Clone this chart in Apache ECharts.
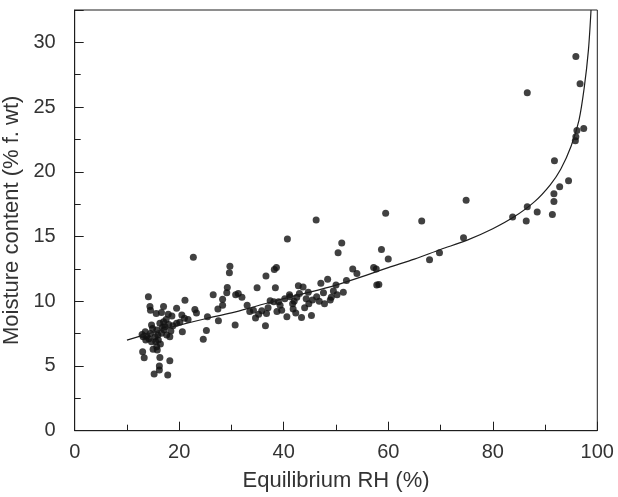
<!DOCTYPE html>
<html lang="en">
<head>
<meta charset="UTF-8">
<title>Moisture content vs equilibrium RH</title>
<script src="https://cdn.jsdelivr.net/npm/echarts@6/dist/echarts.min.js"></script>
<style>
  html, body { margin: 0; padding: 0; background: #fff; }
  #chart { width: 618px; height: 497px; }
</style>
</head>
<body>
<div id="chart"></div>
<script>
// measured points: [RH %, moisture %]
var lowCluster = [
  [12.9, 7.44], [13.0, 6.1], [13.3, 5.64], [13.1, 7.26], [13.5, 7.65], [13.6, 7.0], [13.8, 7.3],
  [14.1, 10.35], [14.4, 9.6], [14.5, 9.3], [14.7, 8.16], [14.7, 6.87], [14.2, 7.1], [14.5, 7.5],
  [14.9, 7.9], [15.0, 6.3], [15.2, 4.38], [15.4, 7.26], [15.5, 6.9], [15.6, 9.06], [15.7, 7.78],
  [15.7, 6.49], [15.8, 6.23], [15.9, 7.4], [16.0, 7.0], [16.2, 5.0], [16.2, 4.69], [16.3, 8.3],
  [16.3, 5.66], [16.4, 6.7], [16.6, 9.14], [16.6, 7.52], [16.8, 8.0], [17.0, 9.6], [17.0, 8.42],
  [17.1, 7.8], [17.3, 8.03], [17.5, 8.6], [17.6, 7.39], [17.8, 4.3], [17.9, 9.0], [18.0, 8.2],
  [18.2, 7.26], [18.2, 5.4], [18.4, 7.7], [18.6, 8.86], [18.8, 8.1], [19.5, 9.45], [19.5, 8.3],
  [20.1, 8.37], [20.5, 8.93], [20.6, 7.65], [21.0, 8.68], [21.1, 10.07], [21.7, 8.6], [22.7, 13.4],
  [23.0, 9.37], [23.3, 9.1], [24.6, 7.06], [25.2, 7.75], [25.4, 8.8]
];
var midCluster = [
  [26.5, 10.5], [27.4, 9.4], [27.5, 8.5], [28.3, 10.15], [28.3, 9.7], [29.1, 10.65], [29.2, 11.07],
  [29.6, 12.2], [29.7, 12.7], [30.7, 8.16], [30.8, 10.5], [31.3, 10.6], [32.0, 10.3], [33.0, 9.7],
  [33.5, 9.2], [34.2, 9.3], [34.6, 8.7], [34.9, 11.04], [35.2, 9.0], [35.8, 9.27], [36.5, 8.1],
  [36.6, 11.95], [36.7, 9.06], [37.0, 9.5], [37.4, 10.04], [38.1, 9.96], [38.2, 12.45], [38.4, 11.04],
  [38.6, 12.6], [38.7, 9.2], [39.0, 9.96], [39.3, 9.7], [39.6, 9.3], [40.2, 10.2], [40.6, 8.8],
  [40.7, 14.8], [41.1, 10.5], [41.2, 10.35], [41.7, 9.8], [41.8, 9.4], [42.0, 10.0], [42.3, 9.1],
  [42.5, 10.3], [42.8, 11.2], [43.0, 10.6], [43.4, 8.75], [43.7, 11.1], [44.0, 9.5], [44.3, 10.2],
  [44.7, 10.7], [44.8, 9.8], [45.3, 8.9], [45.5, 10.1], [46.2, 16.27], [46.3, 10.35], [46.8, 10.0],
  [47.1, 11.4], [47.6, 10.65], [47.8, 9.8], [48.4, 11.7], [48.9, 10.1], [49.1, 10.3], [49.5, 10.8],
  [50.0, 11.25], [50.2, 10.5], [50.4, 13.75], [51.1, 14.5], [51.4, 10.7], [52.0, 11.6], [53.2, 12.5],
  [54.0, 12.15], [57.2, 12.6], [57.7, 12.5], [57.8, 11.25], [58.2, 11.3], [58.7, 14.0], [59.5, 16.8],
  [60.0, 13.26], [66.4, 16.2], [67.9, 13.2], [69.8, 13.75], [74.4, 14.9], [74.9, 17.8]
];
var highCluster = [
  [83.8, 16.5], [86.4, 16.2], [86.6, 17.3], [86.6, 26.1], [88.5, 16.9], [91.4, 16.7], [91.7, 17.7],
  [91.7, 18.3], [91.8, 20.85], [92.8, 18.85], [94.5, 19.3], [95.8, 22.4], [95.9, 22.7], [96.1, 23.2],
  [97.4, 23.35], [95.9, 28.9], [96.7, 26.8]
];

// fitted isotherm
var curveRH = [10, 15, 20, 25, 30, 35, 40, 45, 50, 55, 60, 65, 70, 75, 80, 84, 88, 91, 93, 95, 96.5, 97.5, 98.3, 98.8];
var curveMC = [7.0, 7.6, 8.15, 8.65, 9.1, 9.65, 10.2, 10.7, 11.25, 11.9, 12.6, 13.25, 14.0, 14.7, 15.6, 16.5, 17.7, 19.0, 20.2, 22.0, 24.0, 26.5, 29.4, 32.5];

var xRange = [0, 100], xStep = 20;
var yRange = [0, 32.5], yStep = 5;

var ink = '#1e1e1e';
var txt = '#333';
var font = 'Liberation Sans, Arial, sans-serif';
var points = lowCluster.concat(midCluster, highCluster);
var curve = curveRH.map(function (x, i) { return [x, curveMC[i]]; });

var chart = echarts.init(document.getElementById('chart'));

chart.setOption({
  animation: false,
  grid: {
    left: 74.7, right: 20.7, top: 10, bottom: 66.3,
    containLabel: false, outerBoundsMode: 'none',
    show: true, borderColor: ink, borderWidth: 1
  },
  xAxis: {
    type: 'value',
    name: 'Equilibrium RH (%)',
    nameLocation: 'middle',
    nameGap: 39,
    nameTextStyle: { color: txt, fontSize: 22, fontFamily: font },
    min: xRange[0], max: xRange[1], interval: xStep,
    axisLine: { show: true, lineStyle: { color: ink, width: 1 } },
    axisTick: { show: true, inside: true, length: 9, lineStyle: { color: ink } },
    minorTick: { show: true, splitNumber: 2, length: 6, lineStyle: { color: ink } },
    splitLine: { show: false },
    axisLabel: { color: txt, fontSize: 20, fontFamily: font, margin: 12 }
  },
  yAxis: {
    type: 'value',
    name: 'Moisture content (% f. wt)',
    nameLocation: 'middle',
    nameGap: 29,
    nameTextStyle: { color: txt, fontSize: 22, fontFamily: font },
    min: yRange[0], max: yRange[1], interval: yStep,
    axisLine: { show: true, lineStyle: { color: ink, width: 1 } },
    axisTick: { show: true, inside: true, length: 9, lineStyle: { color: ink } },
    minorTick: { show: true, splitNumber: 2, length: 6, lineStyle: { color: ink } },
    splitLine: { show: false },
    axisLabel: { color: txt, fontSize: 20, fontFamily: font, margin: 19, showMaxLabel: false }
  },
  series: [
    {
      type: 'scatter',
      data: points,
      symbolSize: 7,
      itemStyle: { color: '#111' }
    },
    {
      type: 'line',
      data: curve,
      smooth: 0.3,
      showSymbol: false,
      clip: true,
      lineStyle: { color: ink, width: 1.2 }
    }
  ]
});
</script>
</body>
</html>
